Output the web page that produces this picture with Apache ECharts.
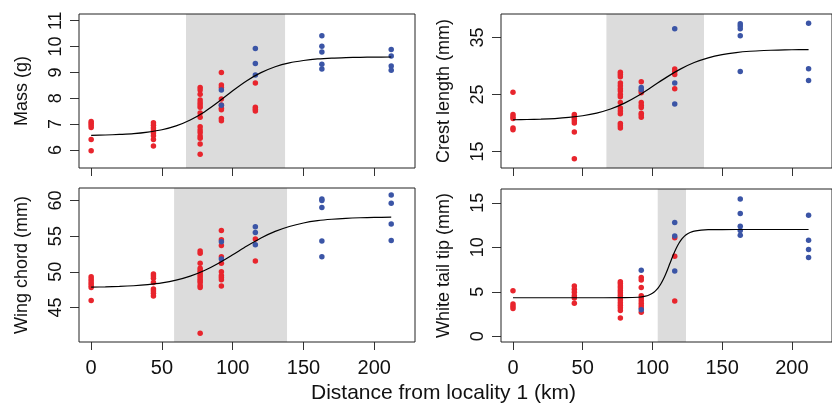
<!DOCTYPE html>
<html>
<head>
<meta charset="utf-8">
<script src="https://cdn.jsdelivr.net/npm/echarts@6/dist/echarts.min.js"></script>
<style>
html,body{margin:0;padding:0;background:#fff;}
#chart{width:832px;height:409px;}
</style>
</head>
<body>
<div id="chart"></div>
<script>
// ---------------- DATA ----------------
const sites = [0, 44, 77, 92, 116, 163, 212];
const xTicks = [0, 50, 100, 150, 200];

// Mass (g)
const massRed = [
  [7.1, 7.03, 6.95, 6.87, 6.4, 5.97],
  [7.05, 6.95, 6.85, 6.75, 6.65, 6.55, 6.4, 6.15],
  [8.42, 8.32, 8.15, 7.93, 7.83, 7.74, 7.65, 7.43, 7.26, 6.9, 6.77, 6.67, 6.54, 6.45, 6.23, 5.83],
  [9.0, 8.51, 8.42, 7.97, 7.74, 7.61, 7.55, 7.22, 7.13],
  [8.59, 7.65, 7.57, 7.51],
  [],
  []
];
const massBlue = [
  [], [], [],
  [8.32, 7.73],
  [9.92, 9.34, 8.9],
  [10.42, 10.01, 9.79, 9.32, 9.13],
  [9.89, 9.63, 9.25, 9.08]
];
const massTicks = [6, 7, 8, 9, 10, 11];
const massShade = [67, 137];
const curveX = [0, 10, 20, 30, 40, 50, 60, 70, 80, 90, 100, 110, 120, 130, 140, 150, 160, 170, 180, 190, 200, 212];
const massCurve = [6.565, 6.577, 6.60, 6.63, 6.69, 6.78, 6.93, 7.16, 7.47, 7.86, 8.29, 8.68, 8.99, 9.22, 9.37, 9.46, 9.52, 9.554, 9.573, 9.585, 9.591, 9.595];

// Crest length (mm)
const crestRed = [
  [25.4, 21.5, 21.1, 20.8, 19.1, 18.8],
  [21.5, 21.1, 20.8, 20.4, 20.0, 18.4, 13.7],
  [28.9, 28.5, 28.1, 27.0, 26.5, 26.0, 25.6, 25.0, 24.6, 23.6, 22.6, 22.1, 21.6, 19.9, 19.5, 19.1],
  [27.2, 25.6, 25.3, 23.6, 23.1, 22.7, 21.7, 21.4, 21.0],
  [29.45, 29.0, 28.5, 26.0],
  [],
  []
];
const crestBlue = [
  [], [], [],
  [26.2, 25.8],
  [36.5, 27.0, 23.3],
  [37.4, 37.0, 36.5, 35.3, 29.0],
  [37.5, 29.5, 27.45]
];
const crestTicks = [15, 25, 35];
const crestShade = [67, 137];
const crestCurve = [20.56, 20.60, 20.66, 20.77, 20.96, 21.26, 21.73, 22.44, 23.47, 24.8, 26.38, 27.99, 29.44, 30.59, 31.42, 31.98, 32.34, 32.57, 32.70, 32.78, 32.83, 32.86];

// Wing chord (mm)
const wingRed = [
  [49.3, 49.0, 48.7, 48.4, 48.1, 47.8, 46.0],
  [49.7, 49.4, 49.1, 48.5, 47.6, 47.3, 47.0, 46.6],
  [52.9, 52.6, 51.2, 50.5, 50.2, 49.9, 49.6, 49.3, 49.0, 48.75, 48.5, 48.1, 47.8, 41.4],
  [55.8, 54.5, 53.7, 52.1, 51.2, 50.0, 49.5, 49.2, 48.9, 48.0],
  [54.6, 51.5],
  [],
  []
];
const wingBlue = [
  [], [], [],
  [54.2, 51.8],
  [56.3, 55.5, 53.8],
  [60.2, 60.0, 59.0, 54.3, 52.1],
  [60.75, 59.6, 56.7, 54.4]
];
const wingTicks = [45, 50, 55, 60];
const wingShade = [58.6, 138.4];
const wingCurve = [47.86, 47.89, 47.95, 48.05, 48.21, 48.45, 48.83, 49.39, 50.18, 51.2, 52.38, 53.61, 54.74, 55.66, 56.35, 56.84, 57.16, 57.36, 57.49, 57.57, 57.62, 57.66];

// White tail tip (mm)
const tailRed = [
  [5.13, 3.62, 3.39, 3.13],
  [5.65, 5.3, 4.95, 4.55, 4.3, 3.7],
  [6.14, 5.92, 5.65, 5.43, 5.16, 4.9, 4.6, 4.33, 4.07, 3.77, 3.5, 3.2, 2.9, 2.07],
  [6.6, 6.33, 5.47, 4.56, 4.3, 4.0, 3.7, 3.43, 3.17, 2.7],
  [11.08, 9.0, 3.96],
  [],
  []
];
const tailBlue = [
  [], [], [],
  [7.43, 2.98],
  [12.78, 11.27, 7.35],
  [15.42, 13.8, 12.36, 11.9, 11.35],
  [13.6, 10.78, 9.76, 8.86]
];
const tailTicks = [0, 5, 10, 15];
const tailShade = [103.8, 124.1];
const tailCurveX = [0, 50, 80, 90, 95, 98, 100, 102, 104, 106, 108, 110, 112.5, 115, 117, 119, 121, 123, 125, 127, 130, 135, 140, 160, 212];
const tailCurve = [4.33, 4.33, 4.34, 4.39, 4.51, 4.67, 4.83, 5.07, 5.41, 5.87, 6.46, 7.17, 8.17, 9.16, 9.87, 10.46, 10.92, 11.26, 11.5, 11.66, 11.82, 11.94, 11.98, 12.0, 12.0];

// ---------------- BUILD ----------------
const FONT = 'Liberation Sans, Arial, Helvetica, sans-serif';
const RED = '#e8252d';
const BLUE = '#3b55a6';

function pts(groups) {
  const out = [];
  groups.forEach((vals, i) => vals.forEach(v => out.push([sites[i], v])));
  return out;
}
function zip(xs, ys) { return xs.map((x, i) => [x, ys[i]]); }

const panels = [
  {grid: {left: 79, top: 14, width: 336, height: 154}, yMin: 5.30, yMax: 11.26, ticks: massTicks, name: 'Mass (g)', red: massRed, blue: massBlue, shade: massShade, cx: curveX, cy: massCurve, xl: false},
  {grid: {left: 501, top: 14, width: 336, height: 154}, yMin: 12.1, yMax: 39.1, ticks: crestTicks, name: 'Crest length (mm)', red: crestRed, blue: crestBlue, shade: crestShade, cx: curveX, cy: crestCurve, xl: false},
  {grid: {left: 79, top: 188, width: 336, height: 154}, yMin: 40.17, yMax: 61.74, ticks: wingTicks, name: 'Wing chord (mm)', red: wingRed, blue: wingBlue, shade: wingShade, cx: curveX, cy: wingCurve, xl: true},
  {grid: {left: 501, top: 189, width: 336, height: 153}, yMin: -0.64, yMax: 16.55, ticks: tailTicks, name: 'White tail tip (mm)', red: tailRed, blue: tailBlue, shade: tailShade, cx: tailCurveX, cy: tailCurve, xl: true}
];

const grids = [], xAxes = [], yAxes = [], series = [];
panels.forEach((p, i) => {
  grids.push(Object.assign({show: true, borderColor: '#222', borderWidth: 1, backgroundColor: 'transparent', z: 10}, p.grid));
  xAxes.push({
    type: 'value', gridIndex: i, min: -8.6, max: 228.8,
    splitLine: {show: false}, axisLine: {show: false, onZero: false},
    axisTick: {show: true, length: 8, customValues: xTicks, lineStyle: {color: '#333', width: 1}},
    axisLabel: {show: p.xl, customValues: xTicks, fontSize: 20, fontFamily: FONT, color: '#111', margin: 16}
  });
  yAxes.push({
    type: 'value', gridIndex: i, min: p.yMin, max: p.yMax,
    splitLine: {show: false}, axisLine: {show: false, onZero: false},
    axisTick: {show: true, length: 9, customValues: p.ticks, lineStyle: {color: '#333', width: 1}},
    axisLabel: {customValues: p.ticks, rotate: 90, fontSize: 18, fontFamily: FONT, color: '#111', margin: 14},
    name: p.name, nameLocation: 'middle', nameGap: 48,
    nameTextStyle: {fontSize: 18, fontFamily: FONT, color: '#111'}
  });
  series.push({
    type: 'line', xAxisIndex: i, yAxisIndex: i, data: [], z: 1, silent: true,
    markArea: {silent: true, itemStyle: {color: '#dcdcdc', opacity: 1}, data: [[{xAxis: p.shade[0]}, {xAxis: p.shade[1]}]]}
  });
  series.push({type: 'scatter', xAxisIndex: i, yAxisIndex: i, data: pts(p.red), symbolSize: 5.5, itemStyle: {color: RED, opacity: 1}, z: 3, animation: false});
  series.push({type: 'scatter', xAxisIndex: i, yAxisIndex: i, data: pts(p.blue), symbolSize: 5.5, itemStyle: {color: BLUE, opacity: 1}, z: 4, animation: false});
  series.push({type: 'line', xAxisIndex: i, yAxisIndex: i, data: zip(p.cx, p.cy), showSymbol: false, symbol: 'none', smooth: 0.3, lineStyle: {color: '#000', width: 1.2}, z: 5, animation: false});
});

const chart = echarts.init(document.getElementById('chart'), null, {renderer: 'canvas'});
chart.setOption({
  animation: false,
  grid: grids, xAxis: xAxes, yAxis: yAxes, series: series,
  graphic: [{type: 'text', left: 311, top: 383, style: {text: 'Distance from locality 1 (km)', fontSize: 21, fontFamily: FONT, fill: '#111'}}]
});
</script>
</body>
</html>
